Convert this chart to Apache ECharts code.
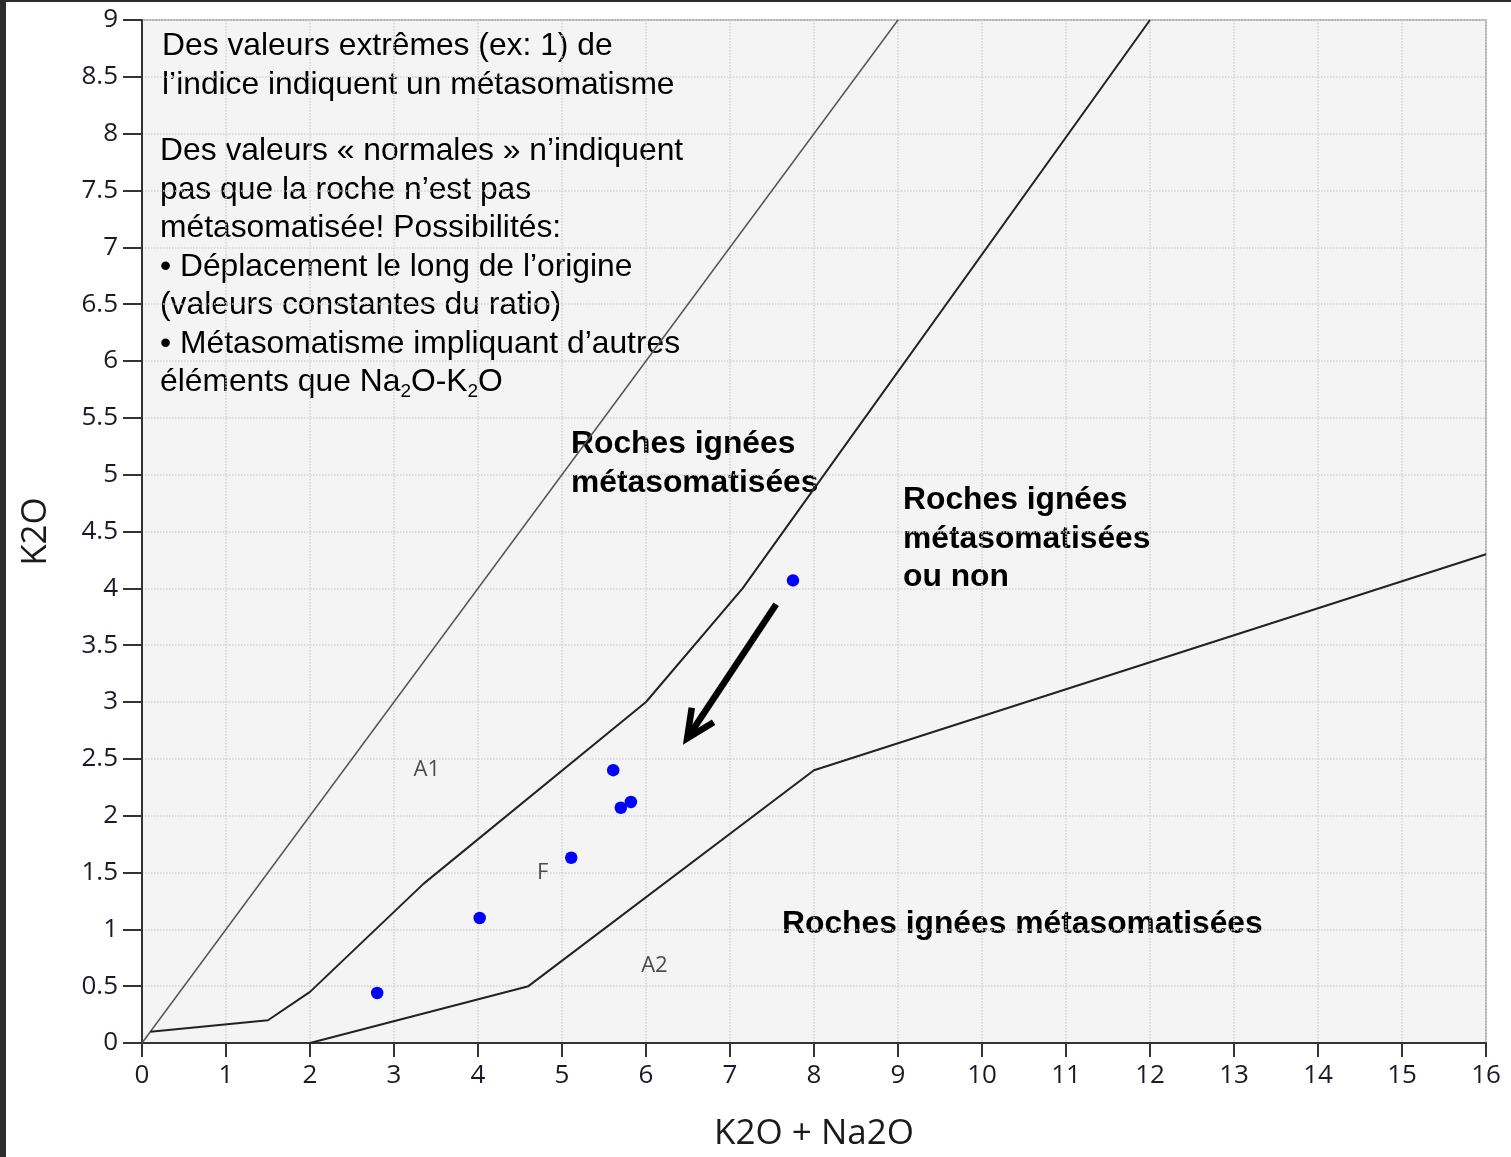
<!DOCTYPE html>
<html>
<head>
<meta charset="utf-8">
<script src="https://cdn.jsdelivr.net/npm/echarts@6/dist/echarts.min.js"></script>
<style>
  html, body { margin: 0; padding: 0; background: #ffffff; overflow: hidden; }
  #chart { width: 1511px; height: 1157px; }
</style>
</head>
<body>
<div id="chart"></div>
<script>
// Boundary lines of the K2O vs K2O+Na2O discrimination diagram
const upperBoundary = [[0, 0], [9, 9]];
const middleBoundary = [[0.1, 0.1], [1.5, 0.2], [2, 0.45], [3.35, 1.4], [6, 3], [7.15, 4], [12, 9]];
const lowerBoundary = [[2, 0], [4.6, 0.5], [8, 2.4], [16, 4.3]];

// Samples
const samples = [[2.8, 0.44], [4.02, 1.1], [5.11, 1.63], [5.61, 2.4], [5.7, 2.07], [5.82, 2.12], [7.75, 4.07]];

// Field names
const fieldNames = ['A1', 'F', 'A2'];
const fieldPositions = [[3.39, 2.4], [4.77, 1.5], [6.1, 0.68]];

// Displacement arrow toward the origin: [x0, y0, x1, y1]
const displacement = [[7.55, 3.86, 6.49, 2.68]];

const chart = echarts.init(document.getElementById('chart'), null, { renderer: 'canvas' });

const tickFont = '"Open Sans", "DejaVu Sans", sans-serif';
const textFont = '"Liberation Sans", Arial, sans-serif';

const option = {
  animation: false,
  backgroundColor: '#ffffff',
  grid: {
    left: 142, right: 25, top: 20, bottom: 109,
    show: true, backgroundColor: '#f4f4f4', borderColor: '#9a9a9a', borderWidth: 1.5
  },
  xAxis: {
    type: 'value', min: 0, max: 16, interval: 1,
    name: 'K2O + Na2O', nameLocation: 'middle', nameGap: 74,
    nameTextStyle: { fontFamily: tickFont, fontSize: 35, color: '#1a1a1a' },
    axisLine: { onZero: false, lineStyle: { color: '#333', width: 2 } },
    axisTick: { length: 14, lineStyle: { color: '#333', width: 2 } },
    axisLabel: { fontFamily: tickFont, fontSize: 26, color: '#1a1a2a', margin: 20 },
    splitLine: { show: true, lineStyle: { color: '#d2d2d2', type: 'dotted', width: 1.5 } }
  },
  yAxis: {
    type: 'value', min: 0, max: 9, interval: 0.5,
    name: 'K2O', nameLocation: 'middle', nameGap: 88, nameRotate: 90,
    nameTextStyle: { fontFamily: tickFont, fontSize: 35, color: '#1a1a1a' },
    axisLine: { onZero: false, lineStyle: { color: '#333', width: 2 } },
    axisTick: { length: 19, lineStyle: { color: '#333', width: 2 } },
    axisLabel: { fontFamily: tickFont, fontSize: 26, color: '#1a1a2a', margin: 24 },
    splitLine: { show: true, lineStyle: { color: '#d2d2d2', type: 'dotted', width: 1.5 } }
  },
  series: [
    {
      type: 'line', data: upperBoundary, symbol: 'none', silent: true,
      lineStyle: { color: '#555', width: 1.5 }
    },
    {
      type: 'line', data: middleBoundary, symbol: 'none', silent: true,
      lineStyle: { color: '#222', width: 2 }
    },
    {
      type: 'line', data: lowerBoundary, symbol: 'none', silent: true,
      lineStyle: { color: '#222', width: 2 }
    },
    {
      type: 'scatter', data: samples, symbol: 'circle', symbolSize: 12.5,
      itemStyle: { color: '#0000ff', opacity: 1 }
    },
    {
      type: 'scatter', symbolSize: 0, silent: true,
      data: fieldPositions.map((p, i) => ({ value: p, name: fieldNames[i] })),
      label: {
        show: true, position: 'inside', formatter: '{b}',
        fontFamily: tickFont, fontSize: 22, color: '#222'
      }
    },
    {
      type: 'custom', data: displacement, silent: true,
      renderItem: function (params, api) {
        const a = api.coord([api.value(0), api.value(1)]);
        const b = api.coord([api.value(2), api.value(3)]);
        const ang = Math.atan2(a[1] - b[1], a[0] - b[0]);
        const len = 31, spread = 25 * Math.PI / 180;
        const arm1 = [b[0] + len * Math.cos(ang - spread), b[1] + len * Math.sin(ang - spread)];
        const arm2 = [b[0] + len * Math.cos(ang + spread), b[1] + len * Math.sin(ang + spread)];
        const style = { stroke: '#000', lineWidth: 6.5, fill: null, lineJoin: 'miter', lineCap: 'butt' };
        return {
          type: 'group',
          children: [
            { type: 'polyline', shape: { points: [a, b] }, style: style },
            { type: 'polyline', shape: { points: [arm1, b, arm2] }, style: style }
          ]
        };
      }
    }
  ],
  graphic: [
    { type: 'rect', left: 0, top: 0, shape: { width: 6, height: 1157 }, style: { fill: '#2d2d30' } },
    { type: 'rect', left: 0, top: 0, shape: { width: 1511, height: 2 }, style: { fill: '#2d2d30' } },
    {
      type: 'text', left: 162, top: 27,
      style: {
        text: 'Des valeurs extrêmes (ex: 1) de\nl’indice indiquent un métasomatisme',
        font: '31.8px ' + textFont, fill: '#000', lineHeight: 38.5
      }
    },
    {
      type: 'text', left: 160, top: 132,
      style: {
        text: 'Des valeurs « normales » n’indiquent\npas que la roche n’est pas\nmétasomatisée! Possibilités:\n• Déplacement le long de l’origine\n(valeurs constantes du ratio)\n• Métasomatisme impliquant d’autres\néléments que Na{sub|2}O-K{sub|2}O',
        font: '31.8px ' + textFont, fill: '#000', lineHeight: 38.5,
        rich: {
          sub: { fontSize: 19, fontFamily: textFont, fill: '#000', verticalAlign: 'bottom', lineHeight: 19 }
        }
      }
    },
    {
      type: 'text', left: 571, top: 425,
      style: { text: 'Roches ignées\nmétasomatisées', font: 'bold 31.8px ' + textFont, fill: '#000', lineHeight: 38.5 }
    },
    {
      type: 'text', left: 903, top: 481,
      style: { text: 'Roches ignées\nmétasomatisées\nou non', font: 'bold 31.8px ' + textFont, fill: '#000', lineHeight: 38.5 }
    },
    {
      type: 'text', left: 782, top: 905,
      style: { text: 'Roches ignées métasomatisées', font: 'bold 31.8px ' + textFont, fill: '#000', lineHeight: 38.5 }
    }
  ]
};

chart.setOption(option);
</script>
</body>
</html>
